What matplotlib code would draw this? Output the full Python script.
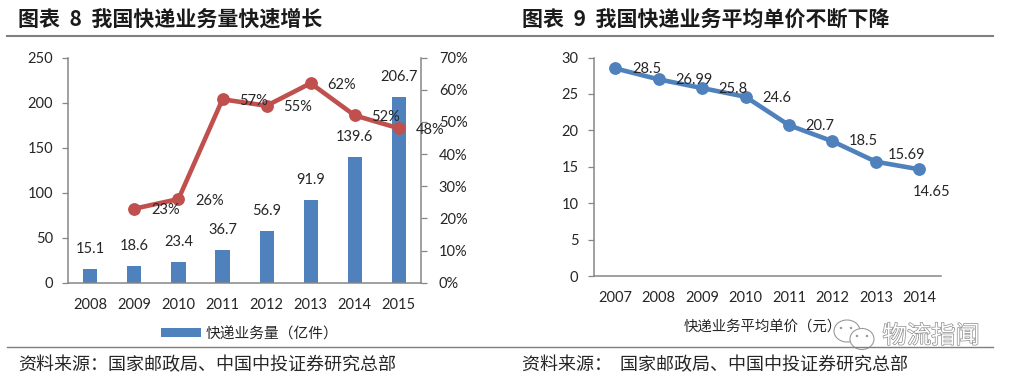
import matplotlib
matplotlib.use("Agg")
import matplotlib.pyplot as plt
import matplotlib.patheffects as pe
from matplotlib.patches import Ellipse

plt.rcParams["font.family"] = ["Lato", "Noto Sans CJK SC", "DejaVu Sans"]

# --- donnees ---
years_left = ["2008", "2009", "2010", "2011", "2012", "2013", "2014", "2015"]
volume = [15.1, 18.6, 23.4, 36.7, 56.9, 91.9, 139.6, 206.7]
growth = [None, 23, 26, 57, 55, 62, 52, 48]
years_right = ["2007", "2008", "2009", "2010", "2011", "2012", "2013", "2014"]
price = [28.5, 26.99, 25.8, 24.6, 20.7, 18.5, 15.69, 14.65]
price_labels = ["28.5", "26.99", "25.8", "24.6", "20.7", "18.5", "15.69", "14.65"]

W, H = 1014, 381
BLUE = "#4F81BD"
RED = "#C0504D"
GREY = "#868686"
INK = "#262626"
CJK = ["Noto Sans CJK SC", "DejaVu Sans"]

fig = plt.figure(figsize=(W / 100, H / 100), dpi=100, facecolor="white")


def rect(left, top, right, bottom):
    return [left / W, 1 - bottom / H, (right - left) / W, (bottom - top) / H]


def fx(x):
    return x / W


def fy(y):
    return 1 - y / H


def style_axis(ax):
    for side in ["top", "right"]:
        ax.spines[side].set_visible(False)
    for side in ["left", "bottom"]:
        ax.spines[side].set_color(GREY)
        ax.spines[side].set_linewidth(1.1)
    ax.tick_params(axis="y", length=4, width=0.9, color=GREY, labelsize=10.5,
                   labelcolor=INK, pad=7)
    ax.tick_params(axis="x", length=0, labelsize=10.5, labelcolor=INK, pad=11)


# --- graphique de gauche ---
ax = fig.add_axes(rect(68.3, 57.5, 420.8, 282.7))
xs = list(range(len(years_left)))
bars = ax.bar(xs, volume, width=0.32, color=BLUE, label="快递业务量（亿件）")
ax.set_xlim(-0.5, 7.5)
ax.set_ylim(0, 250)
ax.set_yticks([0, 50, 100, 150, 200, 250])
ax.set_xticks(xs, years_left)
style_axis(ax)
for x, v in zip(xs, volume):
    ax.annotate(f"{v}", (x, v), xytext=(0, 20), textcoords="offset pixels",
                ha="center", va="center", fontsize=10.5, color=INK)

ax2 = ax.twinx()
ax2.set_ylim(0, 70)
ax2.set_yticks(range(0, 71, 10), [f"{t}%" for t in range(0, 71, 10)])
ax2.spines["top"].set_visible(False)
ax2.spines["left"].set_visible(False)
ax2.spines["bottom"].set_visible(False)
ax2.spines["right"].set_color(GREY)
ax2.spines["right"].set_linewidth(1.1)
ax2.tick_params(axis="y", length=4, width=0.9, color=GREY, labelsize=10.5,
                labelcolor=INK, pad=9)
ax2.plot(xs[1:], growth[1:], color=RED, lw=3.3, marker="o", ms=8.2, clip_on=False)
for x, g in zip(xs[1:], growth[1:]):
    ax2.annotate(f"{g}%", (x, g), xytext=(31, -1.5), textcoords="offset pixels",
                 ha="center", va="center", fontsize=10.5, color=INK)

fig.legend(handles=[bars], loc="center", bbox_to_anchor=(fx(250), fy(334)), frameon=False,
           handlelength=2.7, handleheight=0.55, handletextpad=0.35,
           prop={"family": CJK, "size": 10.6}, labelcolor=INK)

# --- graphique de droite ---
ax3 = fig.add_axes(rect(593.7, 57.5, 941, 276))
xs_r = list(range(len(years_right)))
ax3.plot(xs_r, price, color=BLUE, lw=3.3, marker="o", ms=8.2, clip_on=False)
ax3.set_xlim(-0.5, 7.5)
ax3.set_ylim(0, 30)
ax3.set_yticks([0, 5, 10, 15, 20, 25, 30])
ax3.set_xticks(xs_r, years_right)
style_axis(ax3)
offsets = [(31, -1), (35, -1), (31, -1), (31, -1), (31, -1), (31, 0), (31, 7), (12, -23)]
for x, v, s, off in zip(xs_r, price, price_labels, offsets):
    ax3.annotate(s, (x, v), xytext=off, textcoords="offset pixels",
                 ha="center", va="center", fontsize=10.5, color=INK)
fig.text(fx(763), fy(327), "快递业务平均单价（元）", family=CJK, fontsize=10.4,
         color=INK, ha="center", va="center")

# --- titres, filets, sources ---
fig.text(fx(18), fy(19), "图表  8  我国快递业务量快速增长", family=CJK, fontsize=15.1,
         fontweight="bold", color="#1a1a1a", va="center")
fig.text(fx(522), fy(19), "图表  9  我国快递业务平均单价不断下降", family=CJK, fontsize=15.1,
         fontweight="bold", color="#1a1a1a", va="center")
fig.add_artist(plt.Line2D([fx(7), fx(993)], [fy(35.7), fy(35.7)], color="#7f7f7f", lw=1.5))
fig.add_artist(plt.Line2D([fx(7), fx(993)], [fy(347.3), fy(347.3)], color="#7f7f7f", lw=1.0))
fig.text(fx(18), fy(365), "资料来源：国家邮政局、中国中投证券研究总部", family=CJK, fontsize=13,
         color=INK, va="center")
fig.text(fx(522), fy(365), "资料来源：  国家邮政局、中国中投证券研究总部", family=CJK, fontsize=13,
         color=INK, va="center")

# --- filigrane ---
for cx, cy, w, h in [(847, 331, 26, 22), (862, 339, 24, 21)]:
    fig.add_artist(Ellipse((fx(cx), fy(cy)), w / W, h / H, transform=fig.transFigure,
                           facecolor="white", edgecolor="#9a9a9a", lw=0.8))
for cx, cy in [(841, 328), (851, 328), (857, 336), (867, 336)]:
    fig.add_artist(Ellipse((fx(cx), fy(cy)), 2.5 / W, 2.5 / H, transform=fig.transFigure,
                           facecolor="#9a9a9a", edgecolor="none"))
fig.text(fx(931), fy(336), "物流指闻", family=CJK, fontsize=17.5, color="white",
         ha="center", va="center",
         path_effects=[pe.withStroke(linewidth=1.0, foreground="#8c8c8c")])

plt.savefig("out.png", dpi=100)
